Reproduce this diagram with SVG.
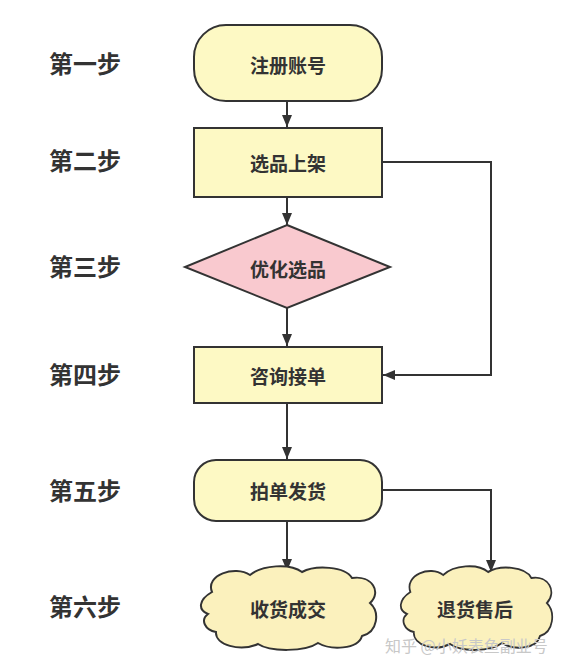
<svg xmlns="http://www.w3.org/2000/svg" width="576" height="672" viewBox="0 0 576 672">
<style>
.step{font-family:"Noto Sans CJK SC","Noto Sans",sans-serif;font-weight:bold;font-size:24px;fill:#333}
.lbl{font-family:"Noto Sans CJK SC","Noto Sans",sans-serif;font-weight:bold;font-size:19px;fill:#333;text-anchor:middle;dominant-baseline:central}
.box{fill:#fdf9c4;stroke:#333;stroke-width:2}
.cloud{fill:#fbf1bd;stroke:#333;stroke-width:2}
.dia{fill:#f9c9cf;stroke:#333;stroke-width:2}
.con{fill:none;stroke:#333;stroke-width:2}
.wm{font-family:"Noto Sans CJK SC","Noto Sans",sans-serif;font-size:16px;fill:#c8c8c8}
</style>
<defs>
<marker id="arr" viewBox="0 0 12 10" refX="12" refY="5" markerWidth="12" markerHeight="10" markerUnits="userSpaceOnUse" orient="auto">
<path d="M0,0 L12,5 L0,10 Z" fill="#333"/>
</marker>
<path id="cloudShape" d="M 212,592 C 205,575 235,565 250,575 C 262,565 290,563 302,572 C 315,565 345,566 352,578 C 372,575 382,592 370,603 C 380,612 378,632 362,636 C 358,650 330,650 318,643 C 305,652 270,652 258,644 C 240,652 215,645 216,632 C 205,630 200,620 208,614 C 198,610 198,600 212,592 Z"/>
</defs>
<rect width="576" height="672" fill="#fff"/>
<g id="steps">
<text class="step" x="49" y="73">第一步</text>
<text class="step" x="49" y="170">第二步</text>
<text class="step" x="49" y="276">第三步</text>
<text class="step" x="49" y="384">第四步</text>
<text class="step" x="49" y="500">第五步</text>
<text class="step" x="49" y="616">第六步</text>
</g>
<g id="connectors">
<line class="con" x1="287" y1="102" x2="287" y2="127" marker-end="url(#arr)"/>
<line class="con" x1="287" y1="197" x2="287" y2="225" marker-end="url(#arr)"/>
<line class="con" x1="287" y1="308" x2="287" y2="346" marker-end="url(#arr)"/>
<line class="con" x1="287" y1="403" x2="287" y2="459" marker-end="url(#arr)"/>
<line class="con" x1="287" y1="521" x2="287" y2="571" marker-end="url(#arr)"/>
<polyline class="con" points="382,490 491,490 491,572" marker-end="url(#arr)"/>
<polyline class="con" points="382,162 491,162 491,375 383,375" marker-end="url(#arr)"/>
</g>
<g id="n1">
<rect class="box" x="194" y="25" width="188" height="76" rx="32" ry="32"/>
<text class="lbl" x="288" y="64">注册账号</text>
</g>
<g id="n2">
<rect class="box" x="194" y="128" width="188" height="69"/>
<text class="lbl" x="288" y="162">选品上架</text>
</g>
<g id="n3">
<polygon class="dia" points="287,225 390,267 287,308 185,267"/>
<text class="lbl" x="288" y="268">优化选品</text>
</g>
<g id="n4">
<rect class="box" x="194" y="347" width="188" height="56"/>
<text class="lbl" x="288" y="375">咨询接单</text>
</g>
<g id="n5">
<rect class="box" x="194" y="460" width="188" height="61" rx="22" ry="22"/>
<text class="lbl" x="288" y="490">拍单发货</text>
</g>
<g id="n6">
<use href="#cloudShape" class="cloud"/>
<text class="lbl" x="288" y="608">收货成交</text>
</g>
<g id="n7">
<use href="#cloudShape" class="cloud" transform="translate(400,0) scale(0.864,1) translate(-200,0)" style="vector-effect:non-scaling-stroke"/>
<text class="lbl" x="475" y="608">退货售后</text>
</g>
<text class="wm" x="385" y="652">知乎 @小妖表鱼副业号</text>
</svg>
